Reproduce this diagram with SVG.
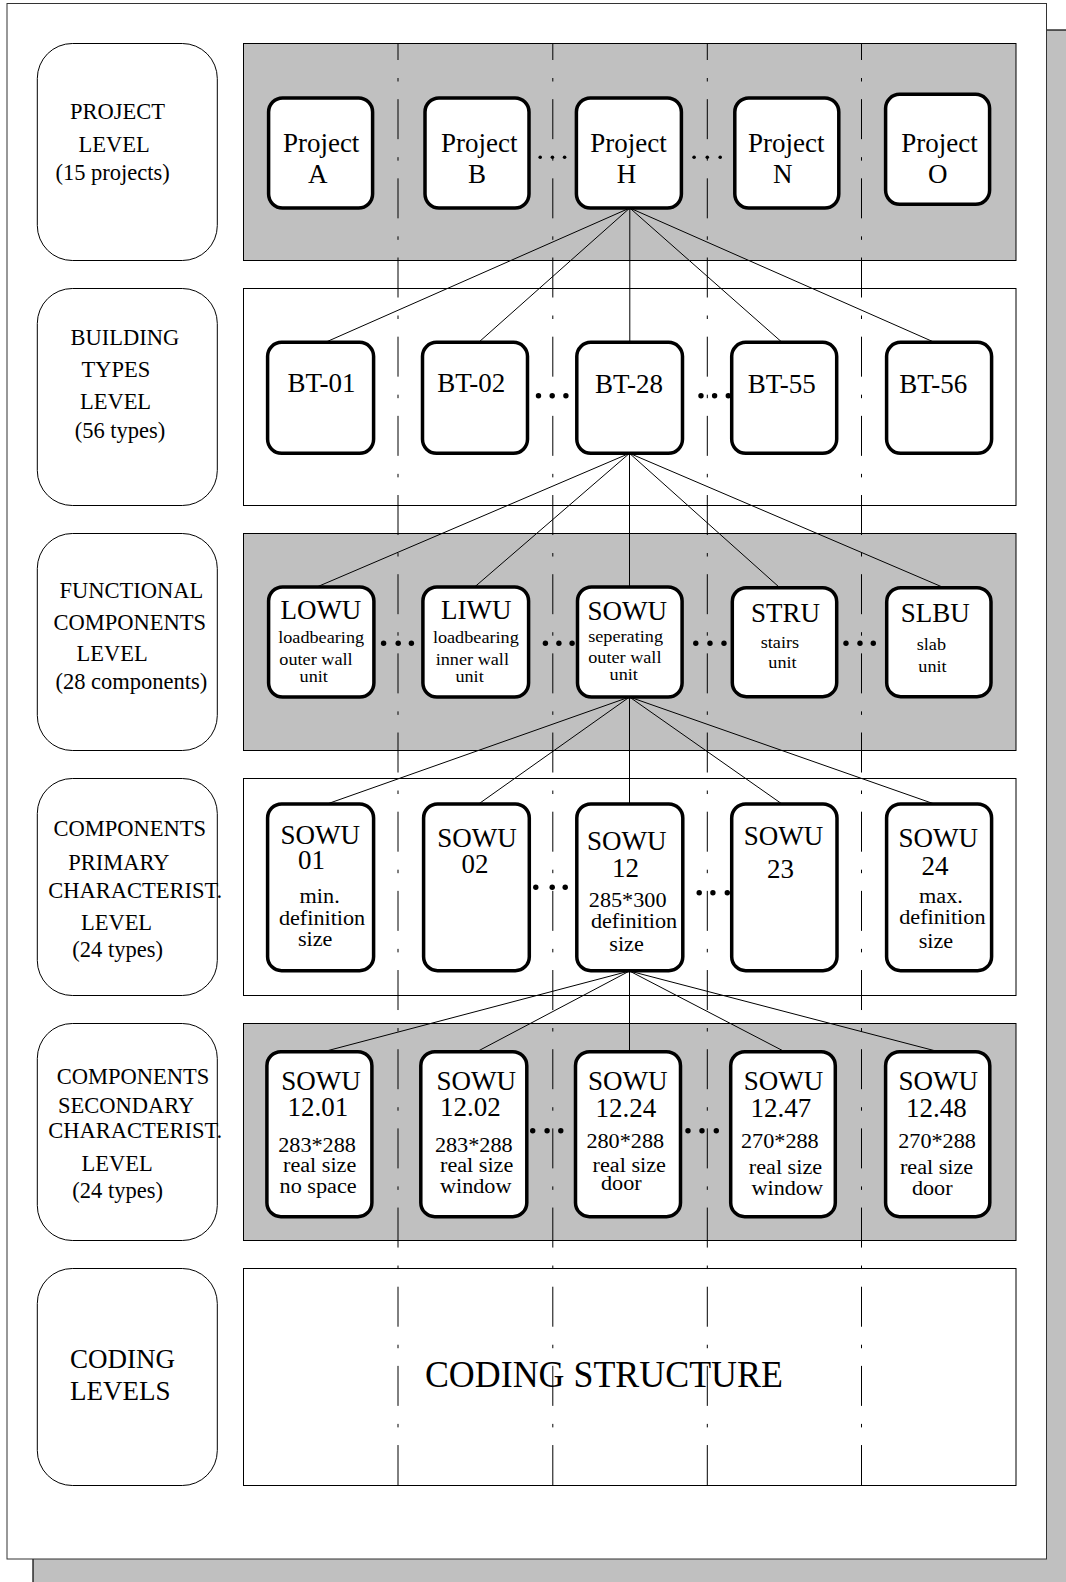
<svg xmlns="http://www.w3.org/2000/svg" width="1066" height="1582" viewBox="0 0 1066 1582">
<style>
.shadow{fill:#c0c0c0;stroke:#000;stroke-width:1.2}
.page{fill:#fff;stroke:#333;stroke-width:1}
.bg{fill:#c0c0c0;stroke:#000;stroke-width:1}
.bw{fill:#fff;stroke:#000;stroke-width:1}
.lbl{fill:#fff;stroke:#000;stroke-width:1}
.node{fill:#fff;stroke:#000;stroke-width:3.5}
.sep{stroke:#000;stroke-width:1;stroke-dasharray:40 18 3.5 17.67;stroke-dashoffset:23.5}
.conn line{stroke:#000;stroke-width:1}
.dot{fill:#000}
text{font-family:"Liberation Serif","Times New Roman",serif;fill:#000}
.l{font-size:22.5px}
.t{font-size:27px}
.s{font-size:17px}
.m{font-size:20.5px}
</style>
<rect class="shadow" x="33" y="30" width="1040" height="1560"/>
<rect class="page" x="7" y="3.5" width="1039.5" height="1555.5"/>

<g id="bands">
<rect class="bg" x="243.5" y="43.5" width="772.5" height="217"/>
<rect class="bw" x="243.5" y="288.5" width="772.5" height="217"/>
<rect class="bg" x="243.5" y="533.5" width="772.5" height="217"/>
<rect class="bw" x="243.5" y="778.5" width="772.5" height="217"/>
<rect class="bg" x="243.5" y="1023.5" width="772.5" height="217"/>
<rect class="bw" x="243.5" y="1268.5" width="772.5" height="217"/>
</g>

<g id="separators">
<line class="sep" x1="398" y1="43.5" x2="398" y2="1485.5"/>
<line class="sep" x1="552.8" y1="43.5" x2="552.8" y2="1485.5"/>
<line class="sep" x1="707.3" y1="43.5" x2="707.3" y2="1485.5"/>
<line class="sep" x1="861.5" y1="43.5" x2="861.5" y2="1485.5"/>
</g>

<g id="level-project">
<rect class="lbl" x="37.3" y="43.5" width="180" height="217" rx="35"/>
<text class="l" x="70" y="119">PROJECT</text>
<text class="l" x="78.6" y="152">LEVEL</text>
<text class="l" x="55.4" y="180">(15 projects)</text>
</g>
<g id="level-building">
<rect class="lbl" x="37.3" y="288.5" width="180" height="217" rx="35"/>
<text class="l" x="70.6" y="345">BUILDING</text>
<text class="l" x="81.6" y="376.7">TYPES</text>
<text class="l" x="79.9" y="409.3">LEVEL</text>
<text class="l" x="74.7" y="438.3">(56 types)</text>
</g>
<g id="level-functional">
<rect class="lbl" x="37.3" y="533.5" width="180" height="217" rx="35"/>
<text class="l" x="59.5" y="598">FUNCTIONAL</text>
<text class="l" x="53.5" y="629.5">COMPONENTS</text>
<text class="l" x="76.6" y="661">LEVEL</text>
<text class="l" x="55.5" y="689">(28 components)</text>
</g>
<g id="level-primary">
<rect class="lbl" x="37.3" y="778.5" width="180" height="217" rx="35"/>
<text class="l" x="53.4" y="835.7">COMPONENTS</text>
<text class="l" x="68.2" y="870">PRIMARY</text>
<text class="l" x="48.2" y="898.3">CHARACTERIST.</text>
<text class="l" x="80.9" y="930">LEVEL</text>
<text class="l" x="72.3" y="957">(24 types)</text>
</g>
<g id="level-secondary">
<rect class="lbl" x="37.3" y="1023.5" width="180" height="217" rx="35"/>
<text class="l" x="56.8" y="1084">COMPONENTS</text>
<text class="l" x="57.9" y="1113.3">SECONDARY</text>
<text class="l" x="48.2" y="1138.3">CHARACTERIST.</text>
<text class="l" x="81.6" y="1170.7">LEVEL</text>
<text class="l" x="72.3" y="1198">(24 types)</text>
</g>
<g id="level-coding">
<rect class="lbl" x="37.3" y="1268.5" width="180" height="217" rx="35"/>
<text class="t" x="70" y="1367.7">CODING</text>
<text class="t" x="70" y="1400">LEVELS</text>
</g>

<g class="conn" id="connectors">
<line x1="629.8" y1="208" x2="325.4" y2="342.3"/>
<line x1="629.8" y1="208" x2="478.7" y2="342.3"/>
<line x1="629.8" y1="208" x2="629.8" y2="342.3"/>
<line x1="629.8" y1="208" x2="782" y2="342.3"/>
<line x1="629.8" y1="208" x2="934.4" y2="342.3"/>
<line x1="629.5" y1="453.3" x2="316.8" y2="587"/>
<line x1="629.5" y1="453.3" x2="474.6" y2="587"/>
<line x1="629.5" y1="453.3" x2="629.5" y2="587"/>
<line x1="629.5" y1="453.3" x2="779" y2="587"/>
<line x1="629.5" y1="453.3" x2="942.3" y2="587"/>
<line x1="629.5" y1="697" x2="327" y2="804"/>
<line x1="629.5" y1="697" x2="478.6" y2="804"/>
<line x1="629.5" y1="697" x2="629.5" y2="804"/>
<line x1="629.5" y1="697" x2="782" y2="804"/>
<line x1="629.5" y1="697" x2="934.4" y2="804"/>
<line x1="629.5" y1="971" x2="323.7" y2="1051.7"/>
<line x1="629.5" y1="971" x2="476.9" y2="1051.7"/>
<line x1="629.5" y1="971" x2="629.5" y2="1051.7"/>
<line x1="629.5" y1="971" x2="784.7" y2="1051.7"/>
<line x1="629.5" y1="971" x2="938.5" y2="1051.7"/>
</g>

<g id="project-a"><rect class="node" x="268.6" y="98" width="104" height="110" rx="14"/><text class="t" x="282.9" y="151.7">Project</text><text class="t" x="307.9" y="183">A</text></g>
<g id="project-b"><rect class="node" x="425" y="98" width="104" height="110" rx="14"/><text class="t" x="441" y="151.7">Project</text><text class="t" x="467.9" y="183">B</text></g>
<g id="project-h"><rect class="node" x="576.4" y="98" width="105" height="110" rx="14"/><text class="t" x="590.3" y="151.7">Project</text><text class="t" x="616.8" y="183">H</text></g>
<g id="project-n"><rect class="node" x="734.8" y="98" width="104" height="110" rx="14"/><text class="t" x="748" y="151.7">Project</text><text class="t" x="773" y="183">N</text></g>
<g id="project-o"><rect class="node" x="885.6" y="94.3" width="104" height="110" rx="14"/><text class="t" x="901.3" y="151.7">Project</text><text class="t" x="928" y="183">O</text></g>

<g id="bt-01"><rect class="node" x="267.6" y="342.3" width="106" height="111" rx="14"/><text class="t" x="287.5" y="392.3">BT-01</text></g>
<g id="bt-02"><rect class="node" x="422.5" y="342.3" width="105" height="111" rx="14"/><text class="t" x="437.3" y="392.3">BT-02</text></g>
<g id="bt-28"><rect class="node" x="576.8" y="342.3" width="105.7" height="111" rx="14"/><text class="t" x="595" y="393.3">BT-28</text></g>
<g id="bt-55"><rect class="node" x="731.7" y="342.3" width="105" height="111" rx="14"/><text class="t" x="747.8" y="393.3">BT-55</text></g>
<g id="bt-56"><rect class="node" x="886.6" y="342.3" width="105" height="111" rx="14"/><text class="t" x="899.2" y="393.3">BT-56</text></g>

<g id="lowu"><rect class="node" x="268.6" y="587" width="105.3" height="110" rx="14"/><text class="t" x="280.4" y="619">LOWU</text><text class="s" x="278.2" y="643.3" textLength="85.9" lengthAdjust="spacingAndGlyphs">loadbearing</text><text class="s" x="279.3" y="665" textLength="73.3" lengthAdjust="spacingAndGlyphs">outer wall</text><text class="s" x="299.6" y="681.7" textLength="28.3" lengthAdjust="spacingAndGlyphs">unit</text></g>
<g id="liwu"><rect class="node" x="422.9" y="587" width="105.7" height="110" rx="14"/><text class="t" x="441" y="619">LIWU</text><text class="s" x="432.9" y="643.3" textLength="85.9" lengthAdjust="spacingAndGlyphs">loadbearing</text><text class="s" x="435.7" y="665" textLength="73.3" lengthAdjust="spacingAndGlyphs">inner wall</text><text class="s" x="455.4" y="681.7" textLength="28.3" lengthAdjust="spacingAndGlyphs">unit</text></g>
<g id="sowu"><rect class="node" x="577.5" y="587" width="104.6" height="110" rx="14"/><text class="t" x="587.5" y="620">SOWU</text><text class="s" x="588.2" y="641.7" textLength="74.8" lengthAdjust="spacingAndGlyphs">seperating</text><text class="s" x="588.2" y="663.3" textLength="73.3" lengthAdjust="spacingAndGlyphs">outer wall</text><text class="s" x="609.6" y="680" textLength="28.3" lengthAdjust="spacingAndGlyphs">unit</text></g>
<g id="stru"><rect class="node" x="732.3" y="587.7" width="104.4" height="109" rx="14"/><text class="t" x="751" y="621.7">STRU</text><text class="s" x="760.7" y="648.3" textLength="38.4" lengthAdjust="spacingAndGlyphs">stairs</text><text class="s" x="768.3" y="668.3" textLength="28.3" lengthAdjust="spacingAndGlyphs">unit</text></g>
<g id="slbu"><rect class="node" x="886.7" y="587.7" width="104.3" height="109" rx="14"/><text class="t" x="900.7" y="621.7">SLBU</text><text class="s" x="916.7" y="650" textLength="29.3" lengthAdjust="spacingAndGlyphs">slab</text><text class="s" x="918.3" y="671.7" textLength="28.3" lengthAdjust="spacingAndGlyphs">unit</text></g>

<g id="sowu-01"><rect class="node" x="267.6" y="804" width="106" height="166.7" rx="14"/><text class="t" x="280.6" y="844">SOWU</text><text class="t" x="297.9" y="869">01</text><text class="m" x="299.6" y="903" textLength="40.1" lengthAdjust="spacingAndGlyphs">min.</text><text class="m" x="278.9" y="925" textLength="86.3" lengthAdjust="spacingAndGlyphs">definition</text><text class="m" x="297.9" y="946" textLength="34.5" lengthAdjust="spacingAndGlyphs">size</text></g>
<g id="sowu-02"><rect class="node" x="423.6" y="804" width="105.7" height="166.7" rx="14"/><text class="t" x="437.3" y="846.7">SOWU</text><text class="t" x="461.4" y="873.3">02</text></g>
<g id="sowu-12"><rect class="node" x="576.8" y="804" width="106" height="166.7" rx="14"/><text class="t" x="587" y="850">SOWU</text><text class="t" x="612" y="877.3">12</text><text class="m" x="588.8" y="906.7" textLength="77.7" lengthAdjust="spacingAndGlyphs">285*300</text><text class="m" x="590.9" y="927.7" textLength="86.3" lengthAdjust="spacingAndGlyphs">definition</text><text class="m" x="609.3" y="951" textLength="34.5" lengthAdjust="spacingAndGlyphs">size</text></g>
<g id="sowu-23"><rect class="node" x="731.7" y="804" width="105.3" height="166.7" rx="14"/><text class="t" x="743.7" y="845">SOWU</text><text class="t" x="767" y="877.7">23</text></g>
<g id="sowu-24"><rect class="node" x="886.6" y="804" width="105" height="166.7" rx="14"/><text class="t" x="898.5" y="846.7">SOWU</text><text class="t" x="921.5" y="875">24</text><text class="m" x="919" y="903.3" textLength="43.8" lengthAdjust="spacingAndGlyphs">max.</text><text class="m" x="899.2" y="924.3" textLength="86.3" lengthAdjust="spacingAndGlyphs">definition</text><text class="m" x="918.7" y="948.3" textLength="34.5" lengthAdjust="spacingAndGlyphs">size</text></g>

<g id="sowu-12-01"><rect class="node" x="266.9" y="1051.7" width="105" height="165" rx="14"/><text class="t" x="281.3" y="1090">SOWU</text><text class="t" x="287.5" y="1116">12.01</text><text class="m" x="278.2" y="1151.7" textLength="77.7" lengthAdjust="spacingAndGlyphs">283*288</text><text class="m" x="283" y="1171.7" textLength="73.3" lengthAdjust="spacingAndGlyphs">real size</text><text class="m" x="279.6" y="1192.7" textLength="77.1" lengthAdjust="spacingAndGlyphs">no space</text></g>
<g id="sowu-12-02"><rect class="node" x="420.8" y="1051.7" width="106" height="165" rx="14"/><text class="t" x="436.6" y="1090">SOWU</text><text class="t" x="440" y="1116">12.02</text><text class="m" x="434.9" y="1151.7" textLength="77.7" lengthAdjust="spacingAndGlyphs">283*288</text><text class="m" x="440" y="1171.7" textLength="73.3" lengthAdjust="spacingAndGlyphs">real size</text><text class="m" x="440" y="1192.7" textLength="71.5" lengthAdjust="spacingAndGlyphs">window</text></g>
<g id="sowu-12-24"><rect class="node" x="575.5" y="1051.7" width="105" height="165" rx="14"/><text class="t" x="588.1" y="1090">SOWU</text><text class="t" x="595.6" y="1116.7">12.24</text><text class="m" x="586.4" y="1148.3" textLength="77.7" lengthAdjust="spacingAndGlyphs">280*288</text><text class="m" x="592.6" y="1171.7" textLength="73.3" lengthAdjust="spacingAndGlyphs">real size</text><text class="m" x="601" y="1190" textLength="40.7" lengthAdjust="spacingAndGlyphs">door</text></g>
<g id="sowu-12-47"><rect class="node" x="730.7" y="1051.7" width="104.6" height="165" rx="14"/><text class="t" x="743.7" y="1090">SOWU</text><text class="t" x="750.5" y="1116.7">12.47</text><text class="m" x="741" y="1148.3" textLength="77.7" lengthAdjust="spacingAndGlyphs">270*288</text><text class="m" x="748.8" y="1174.3" textLength="73.3" lengthAdjust="spacingAndGlyphs">real size</text><text class="m" x="751.5" y="1195" textLength="71.5" lengthAdjust="spacingAndGlyphs">window</text></g>
<g id="sowu-12-48"><rect class="node" x="885.6" y="1051.7" width="104.2" height="165" rx="14"/><text class="t" x="898.5" y="1090">SOWU</text><text class="t" x="906" y="1116.7">12.48</text><text class="m" x="898.2" y="1148.3" textLength="77.7" lengthAdjust="spacingAndGlyphs">270*288</text><text class="m" x="899.9" y="1174.3" textLength="73.3" lengthAdjust="spacingAndGlyphs">real size</text><text class="m" x="911.9" y="1195" textLength="40.7" lengthAdjust="spacingAndGlyphs">door</text></g>

<g id="coding-structure"><text x="424.9" y="1386.7" font-size="37" textLength="358" lengthAdjust="spacingAndGlyphs">CODING STRUCTURE</text></g>

<g id="ellipses">
<circle class="dot" cx="540.2" cy="157.3" r="1.8"/><circle class="dot" cx="552.4" cy="157.3" r="1.8"/><circle class="dot" cx="564.6" cy="157.3" r="1.8"/>
<circle class="dot" cx="694.1" cy="157.3" r="1.8"/><circle class="dot" cx="707.3" cy="157.3" r="1.8"/><circle class="dot" cx="720.2" cy="157.3" r="1.8"/>
<circle class="dot" cx="538.5" cy="395.7" r="2.7"/><circle class="dot" cx="552.2" cy="395.7" r="2.7"/><circle class="dot" cx="565.9" cy="395.7" r="2.7"/>
<circle class="dot" cx="701" cy="395.7" r="2.7"/><circle class="dot" cx="714.6" cy="395.7" r="2.7"/><circle class="dot" cx="728.3" cy="395.7" r="2.7"/>
<circle class="dot" cx="383.6" cy="643.3" r="2.7"/><circle class="dot" cx="398.2" cy="643.3" r="2.7"/><circle class="dot" cx="411.4" cy="643.3" r="2.7"/>
<circle class="dot" cx="545.4" cy="643.3" r="2.7"/><circle class="dot" cx="558.9" cy="643.3" r="2.7"/><circle class="dot" cx="572.1" cy="643.3" r="2.7"/>
<circle class="dot" cx="695.8" cy="643.3" r="2.7"/><circle class="dot" cx="710" cy="643.3" r="2.7"/><circle class="dot" cx="724" cy="643.3" r="2.7"/>
<circle class="dot" cx="846" cy="643.3" r="2.7"/><circle class="dot" cx="860" cy="643.3" r="2.7"/><circle class="dot" cx="873.3" cy="643.3" r="2.7"/>
<circle class="dot" cx="535.8" cy="887.3" r="2.7"/><circle class="dot" cx="552.2" cy="887.3" r="2.7"/><circle class="dot" cx="565.2" cy="887.3" r="2.7"/>
<circle class="dot" cx="699.2" cy="892.7" r="2.7"/><circle class="dot" cx="712.9" cy="892.7" r="2.7"/><circle class="dot" cx="727.3" cy="892.7" r="2.7"/>
<circle class="dot" cx="532.7" cy="1130.7" r="2.7"/><circle class="dot" cx="547.1" cy="1130.7" r="2.7"/><circle class="dot" cx="560.8" cy="1130.7" r="2.7"/>
<circle class="dot" cx="688" cy="1130.7" r="2.7"/><circle class="dot" cx="702" cy="1130.7" r="2.7"/><circle class="dot" cx="716.3" cy="1130.7" r="2.7"/>
</g>
</svg>
